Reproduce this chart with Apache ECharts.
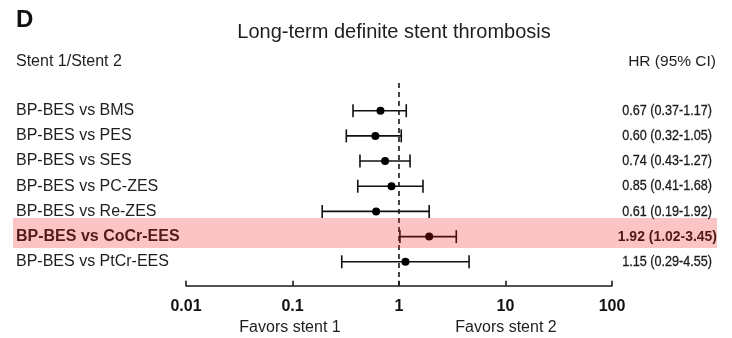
<!DOCTYPE html>
<html>
<head>
<meta charset="utf-8">
<script src="https://cdn.jsdelivr.net/npm/echarts@6/dist/echarts.min.js"></script>
<style>
  html, body { margin: 0; padding: 0; background: #fff; }
  #chart { width: 732px; height: 338px; }
</style>
</head>
<body>
<div id="chart"></div>
<script>
// Comparisons (stent 1 vs stent 2)
const comparisons = [
  'BP-BES vs BMS',
  'BP-BES vs PES',
  'BP-BES vs SES',
  'BP-BES vs PC-ZES',
  'BP-BES vs Re-ZES',
  'BP-BES vs CoCr-EES',
  'BP-BES vs PtCr-EES'
];
// Hazard ratios and 95% confidence limits
const hr      = [0.67, 0.60, 0.74, 0.85, 0.61, 1.92, 1.15];
const ciLower = [0.37, 0.32, 0.43, 0.41, 0.19, 1.02, 0.29];
const ciUpper = [1.17, 1.05, 1.27, 1.68, 1.92, 3.45, 4.55];
// Row shown emphasised
const highlightRow = 5;
// Log axis ticks
const xTicks = [0.01, 0.1, 1, 10, 100];

const fmt = v => v.toFixed(2);
const rows = comparisons.map((name, i) => [i, hr[i], ciLower[i], ciUpper[i]]);

const FONT = "'Liberation Sans', Arial, sans-serif";

const chart = echarts.init(document.getElementById('chart'), null, { renderer: 'canvas' });

chart.setOption({
  animation: false,
  grid: { left: 186, right: 120, top: 83, bottom: 52.3 },
  xAxis: {
    type: 'log',
    logBase: 10,
    min: 0.01,
    max: 100,
    axisLine: { show: true, onZero: false, lineStyle: { color: '#1a1a1a', width: 1.6 } },
    axisTick: { show: true, inside: true, length: 5, lineStyle: { color: '#1a1a1a', width: 1.6 } },
    splitLine: { show: false },
    axisLabel: {
      margin: 13,
      color: '#111',
      fontFamily: FONT,
      fontWeight: 'bold',
      fontSize: 16,
      formatter: v => {
        const t = xTicks.find(k => Math.abs(Math.log10(k) - Math.log10(v)) < 1e-6);
        return t === undefined ? '' : String(t);
      }
    }
  },
  yAxis: {
    type: 'value',
    inverse: true,
    min: -1.1,
    max: 6.95,
    show: false
  },
  series: [
    {
      type: 'custom',
      data: rows,
      clip: false,
      z: 3,
      renderItem: (params, api) => {
        const i = api.value(0);
        const p = api.coord([api.value(1), i]);
        const lo = api.coord([api.value(2), i]);
        const hi = api.coord([api.value(3), i]);
        const cap = 6.5;
        const strong = i === highlightRow;
        const stroke = { stroke: '#111', lineWidth: 1.6 };
        return {
          type: 'group',
          children: [
            { type: 'line', shape: { x1: lo[0], y1: p[1], x2: hi[0], y2: p[1] }, style: stroke },
            { type: 'line', shape: { x1: lo[0], y1: p[1] - cap, x2: lo[0], y2: p[1] + cap }, style: stroke },
            { type: 'line', shape: { x1: hi[0], y1: p[1] - cap, x2: hi[0], y2: p[1] + cap }, style: stroke },
            { type: 'circle', shape: { cx: p[0], cy: p[1], r: 4 }, style: { fill: '#000' } },
            {
              type: 'text',
              x: 16, y: p[1],
              style: {
                text: comparisons[i],
                fontFamily: FONT,
                fontSize: 16,
                fontWeight: strong ? 'bold' : 'normal',
                fill: '#1e1e1e',
                verticalAlign: 'middle',
                align: 'left'
              }
            },
            {
              type: 'text',
              x: strong ? 717 : 712, y: p[1],
              scaleX: strong ? 0.93 : 0.84,
              style: {
                text: fmt(hr[i]) + ' (' + fmt(ciLower[i]) + '-' + fmt(ciUpper[i]) + ')',
                fontFamily: FONT,
                fontSize: 15,
                fontWeight: strong ? 'bold' : 500,
                fill: '#1a1a1a',
                stroke: strong ? null : '#1a1a1a',
                lineWidth: strong ? 0 : 0.3,
                verticalAlign: 'middle',
                align: 'right'
              }
            }
          ]
        };
      },
      markLine: {
        silent: true,
        symbol: 'none',
        label: { show: false },
        lineStyle: { color: '#1a1a1a', width: 1.6, type: [5, 4] },
        data: [{ xAxis: 1 }]
      }
    }
  ],
  graphic: [
    { type: 'text', x: 16, y: 20, style: { text: 'D', fontFamily: FONT, fontWeight: 'bold', fontSize: 24, fill: '#111', verticalAlign: 'middle' } },
    { type: 'text', x: 394, y: 32, style: { text: 'Long-term definite stent thrombosis', fontFamily: FONT, fontSize: 20, fill: '#1e1e1e', align: 'center', verticalAlign: 'middle' } },
    { type: 'text', x: 16, y: 62, style: { text: 'Stent 1/Stent 2', fontFamily: FONT, fontSize: 16, fill: '#1e1e1e', verticalAlign: 'middle' } },
    { type: 'text', x: 716, y: 62, style: { text: 'HR (95% CI)', fontFamily: FONT, fontSize: 15.5, fill: '#1e1e1e', align: 'right', verticalAlign: 'middle' } },
    { type: 'text', x: 290, y: 328, style: { text: 'Favors stent 1', fontFamily: FONT, fontSize: 16, fill: '#1e1e1e', align: 'center', verticalAlign: 'middle' } },
    { type: 'text', x: 506, y: 328, style: { text: 'Favors stent 2', fontFamily: FONT, fontSize: 16, fill: '#1e1e1e', align: 'center', verticalAlign: 'middle' } },
    // translucent band over the emphasised row
    { type: 'rect', z: 100, shape: { x: 13, y: 218, width: 704, height: 30 }, style: { fill: 'rgba(245,25,25,0.25)' } }
  ]
});
</script>
</body>
</html>
